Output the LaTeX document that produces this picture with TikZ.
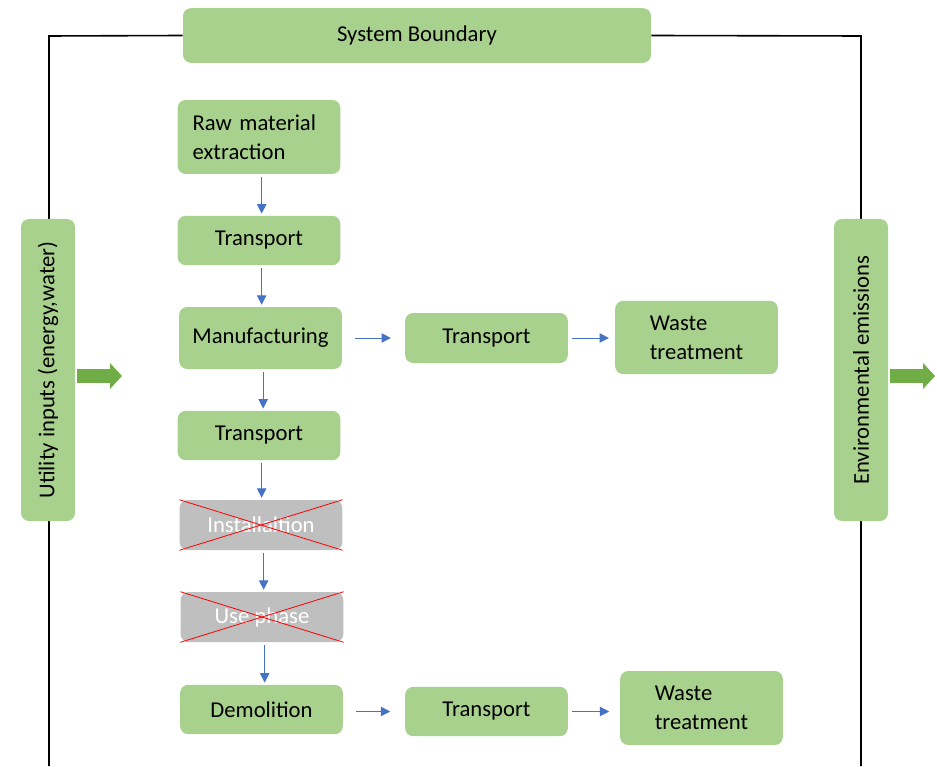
\documentclass[tikz,border=0pt]{standalone}
\usepackage{fontspec}
\setmainfont{Carlito}
\usetikzlibrary{arrows.meta}

\definecolor{boxgreen}{HTML}{A9D18E}
\definecolor{boxgray}{HTML}{BFBFBF}
\definecolor{flowblue}{HTML}{4472C4}
\definecolor{fatgreen}{HTML}{70AD47}

\begin{document}
\begin{tikzpicture}[x=0.75pt, y=-0.75pt,
    stagebox/.style={fill=boxgreen, rounded corners=6pt, inner sep=0pt,
        minimum width=122pt, minimum height=37pt, align=left,
        font=\fontsize{17}{21.5}\selectfont},
    crossbox/.style={stagebox, fill=boxgray, text=white},
    sidebox/.style={stagebox, rotate=90, minimum width=226.5pt, minimum height=40.5pt},
    flow/.style={draw=flowblue, line width=0.75pt, -{Triangle[length=7pt,width=7pt]}},
    fat/.style={draw=fatgreen, line width=10pt, -{Triangle[length=9pt,width=19pt]}}]

    \useasboundingbox (0,0) rectangle (937,766);

    % System boundary
    \node[stagebox, minimum width=351pt, minimum height=41pt] (sys) at (417,35.5) {System Boundary};
    \draw[line width=1.2pt] (sys.west) -- (49,36) -- (49,766);
    \draw[line width=1.2pt] (sys.east) -- (861,36) -- (861,766);

    % Inputs and emissions
    \node[sidebox] (util) at (48,370) {Utility inputs (energy,water)};
    \node[sidebox] (env) at (861,370) {Environmental emissions};
    \coordinate (uin) at (122,376);
    \coordinate (eout) at (935,376);
    \draw[fat, shorten <=1.5pt] (util.south |- uin) -- (uin);
    \draw[fat, shorten <=1pt] (env.south |- eout) -- (eout);

    % Life cycle stages
    \node[stagebox, minimum height=55.5pt, text width=99.5pt, inner xsep=11pt] (raw) at (259,137) {Raw material\\extraction};
    \node[stagebox] (tr1) at (259,240.5) {Transport};
    \node[stagebox, minimum height=46.5pt] (manu) at (260.5,338) {Manufacturing};
    \node[stagebox, minimum height=37.5pt] (trm) at (486.5,338) {Transport};
    \node[stagebox, minimum height=55pt] (wst1) at (696.5,337.5) {Waste\\treatment};
    \node[stagebox] (tr2) at (259,435.5) {Transport};
    \node[crossbox, minimum height=37.5pt] (inst) at (261,525) {Installaltion};
    \node[crossbox, minimum height=37.5pt] (use) at (262,617) {Use phase};
    \node[stagebox] (demo) at (261.5,709.5) {Demolition};
    \node[stagebox] (tr3) at (486.5,711.5) {Transport};
    \node[stagebox, minimum height=55.5pt] (wst2) at (701.5,708) {Waste\\treatment};

    % Excluded stages
    \foreach \n in {inst, use} {
        \draw[red, line width=0.6pt] (\n.north west) -- (\n.south east);
        \draw[red, line width=0.6pt] (\n.south west) -- (\n.north east);
    }

    % Flows
    \foreach \a/\b in {raw/tr1, tr1/manu, manu/tr2, tr2/inst, inst/use, use/demo} {
        \draw[flow, shorten <=2pt, shorten >=1.5pt] ([xshift=2pt]\a.south) -- ([xshift=2pt]\a.south |- \b.north);
    }
    \draw[flow, shorten <=10pt, shorten >=10.5pt] (manu.east) -- (manu.east -| trm.west);
    \draw[flow, shorten <=3pt, shorten >=4.5pt] (trm.east) -- (trm.east -| wst1.west);
    \draw[flow, shorten <=10pt, shorten >=11pt] (demo.east |- tr3.west) -- (tr3.west);
    \draw[flow, shorten <=3pt, shorten >=8pt] (tr3.east) -- (tr3.east -| wst2.west);
\end{tikzpicture}
\end{document}
